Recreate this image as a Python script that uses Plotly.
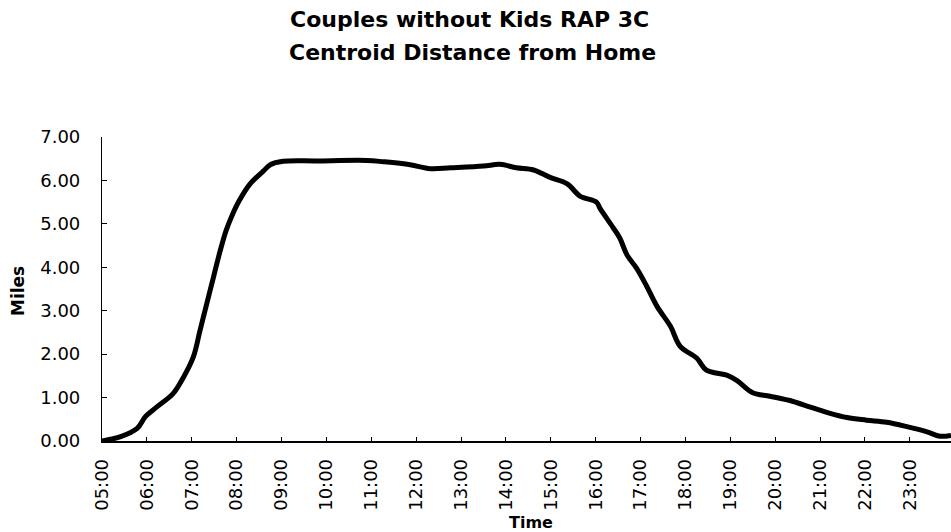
import plotly.graph_objects as go
import pandas as pd

# ---- data ----
times = ["05:00", "05:25", "05:47", "05:58", "06:13", "06:35", "06:49", "07:02", "07:11",
         "07:20", "07:29", "07:38", "07:46", "07:54", "08:03", "08:18", "08:36", "08:45", "09:02",
         "09:47", "10:54", "11:16", "11:52", "12:19", "12:46", "13:30", "13:52", "14:14",
         "14:37", "14:59", "15:22", "15:39", "16:01", "16:06", "16:23", "16:32", "16:42",
         "16:55", "17:08", "17:22", "17:40", "17:53", "18:15", "18:28", "18:56", "19:09",
         "19:30", "19:53", "20:24", "20:47", "21:09", "21:36", "22:02", "22:29", "22:56",
         "23:23", "23:40", "23:55"]
miles = [0.00, 0.10, 0.29, 0.56, 0.78, 1.09, 1.47, 1.93, 2.54,
         3.16, 3.77, 4.38, 4.85, 5.20, 5.52, 5.92, 6.22, 6.36, 6.44,
         6.45, 6.46, 6.43, 6.36, 6.27, 6.29, 6.33, 6.37, 6.29,
         6.24, 6.07, 5.92, 5.64, 5.50, 5.35, 4.92, 4.68, 4.28,
         3.97, 3.57, 3.10, 2.64, 2.18, 1.91, 1.63, 1.51, 1.39,
         1.11, 1.03, 0.91, 0.78, 0.66, 0.54, 0.48, 0.43, 0.33,
         0.21, 0.11, 0.13]
tick_labels = ["05:00", "06:00", "07:00", "08:00", "09:00", "10:00", "11:00", "12:00",
               "13:00", "14:00", "15:00", "16:00", "17:00", "18:00", "19:00", "20:00",
               "21:00", "22:00", "23:00"]
y_ticks = [0, 1, 2, 3, 4, 5, 6, 7]
title_lines = ["Couples without Kids RAP 3C", "Centroid Distance from Home"]

day = "2000-01-01 "
x = pd.to_datetime([day + t for t in times])
xt = pd.to_datetime([day + t for t in tick_labels])

W, H = 951, 532
L, R, T, B = 102, 0, 137, 91
pw, ph = W - L - R, H - T - B

def px_x(p):
    return (p - L) / pw

def px_y(p):
    return (H - B - p) / ph

fig = go.Figure()
fig.add_trace(go.Scatter(
    x=x, y=miles, mode="lines",
    line=dict(color="black", width=5, shape="spline", smoothing=1.0),
    showlegend=False, hoverinfo="skip"))

tick_font = dict(family="DejaVu Sans", size=18, color="black")
fig.update_xaxes(
    range=[pd.Timestamp(day + "05:00"), pd.Timestamp(day + "23:55")],
    tickvals=xt, ticktext=tick_labels, tickangle=-90,
    ticks="inside", ticklen=4, tickcolor="black", tickwidth=1,
    showline=True, linecolor="black", linewidth=1.5,
    showgrid=False, zeroline=False, tickfont=tick_font,
    ticklabelstandoff=9)
fig.update_yaxes(
    range=[0, 7], tickvals=y_ticks, tickformat=".2f",
    ticks="inside", ticklen=5, tickcolor="black", tickwidth=1,
    showline=True, linecolor="black", linewidth=1.2,
    showgrid=False, zeroline=False, tickfont=tick_font,
    ticklabelstandoff=17)

anns = [
    dict(text=title_lines[0], x=px_x(469), y=px_y(20)),
    dict(text=title_lines[1], x=px_x(472), y=px_y(53)),
]
for a in anns:
    a.update(xref="paper", yref="paper", showarrow=False, xanchor="center", yanchor="middle",
             font=dict(family="DejaVu Sans", size=22, color="black", weight="bold"))
anns.append(dict(text="Miles", x=px_x(18), y=px_y(291), xref="paper", yref="paper",
                 showarrow=False, textangle=-90, xanchor="center", yanchor="middle",
                 font=dict(family="DejaVu Sans", size=17, color="black", weight="bold")))
anns.append(dict(text="Time", x=px_x(531), y=px_y(522), xref="paper", yref="paper",
                 showarrow=False, xanchor="center", yanchor="middle",
                 font=dict(family="DejaVu Sans", size=16, color="black", weight="bold")))

fig.update_layout(
    width=W, height=H,
    margin=dict(l=L, r=R, t=T, b=B),
    paper_bgcolor="white", plot_bgcolor="white",
    annotations=anns,
)

fig.write_html("out.html", config={"displayModeBar": False},
               post_script="document.body.style.margin='0';document.body.style.overflow='hidden';")
